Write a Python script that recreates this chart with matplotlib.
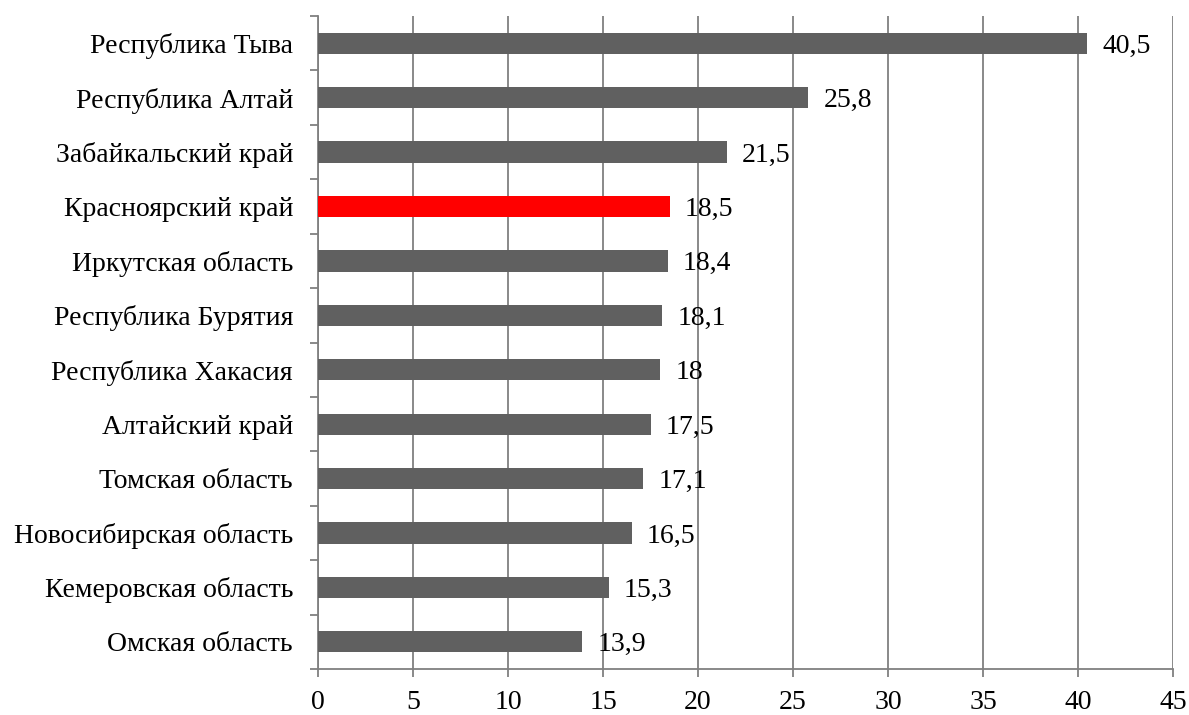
import numpy as np
import matplotlib.pyplot as plt

plt.rcParams['font.family'] = ['Liberation Serif', 'DejaVu Serif']

regions = ["Республика Тыва", "Республика Алтай", "Забайкальский край",
           "Красноярский край", "Иркутская область", "Республика Бурятия",
           "Республика Хакасия", "Алтайский край", "Томская область",
           "Новосибирская область", "Кемеровская область", "Омская область"]
values = [40.5, 25.8, 21.5, 18.5, 18.4, 18.1, 18, 17.5, 17.1, 16.5, 15.3, 13.9]
highlight = "Красноярский край"

grey = "#808080"
fs = 20
fig = plt.figure(figsize=(11.89, 7.15), dpi=100)
ax = fig.add_axes([0.2675, 0.0643, 0.7190, 0.9133])

y = np.arange(len(regions))[::-1]
colors = ["#ff0000" if r == highlight else "#606060" for r in regions]
ax.barh(y, values, height=0.39, color=colors, zorder=3)

for yi, v in zip(y, values):
    txt = f"{v:g}".replace(".", ",")
    ax.annotate(txt, (v, yi), xytext=(11, 0), textcoords="offset points",
                va="center_baseline", ha="left", fontsize=fs, zorder=4)

ax.set_xlim(0, 45)
ax.set_ylim(-0.5, len(regions) - 0.5)
ax.set_xticks(np.arange(0, 46, 5))
ax.set_yticks(y)
ax.set_yticklabels(regions, va="center_baseline")
ax.set_yticks(np.arange(-0.5, len(regions), 1), minor=True)
ax.tick_params(axis="y", which="major", length=0, pad=18, labelsize=fs)
ax.tick_params(axis="y", which="minor", length=6, width=1.3, color=grey)
ax.tick_params(axis="x", length=6, width=1.3, color=grey, labelsize=fs, pad=9)
ax.xaxis.grid(True, color=grey, linewidth=1.3, zorder=0)
for s in ["top", "right"]:
    ax.spines[s].set_visible(False)
for s in ["left", "bottom"]:
    ax.spines[s].set_color(grey)
    ax.spines[s].set_linewidth(1.3)

fig.savefig("out.png", dpi=100)
